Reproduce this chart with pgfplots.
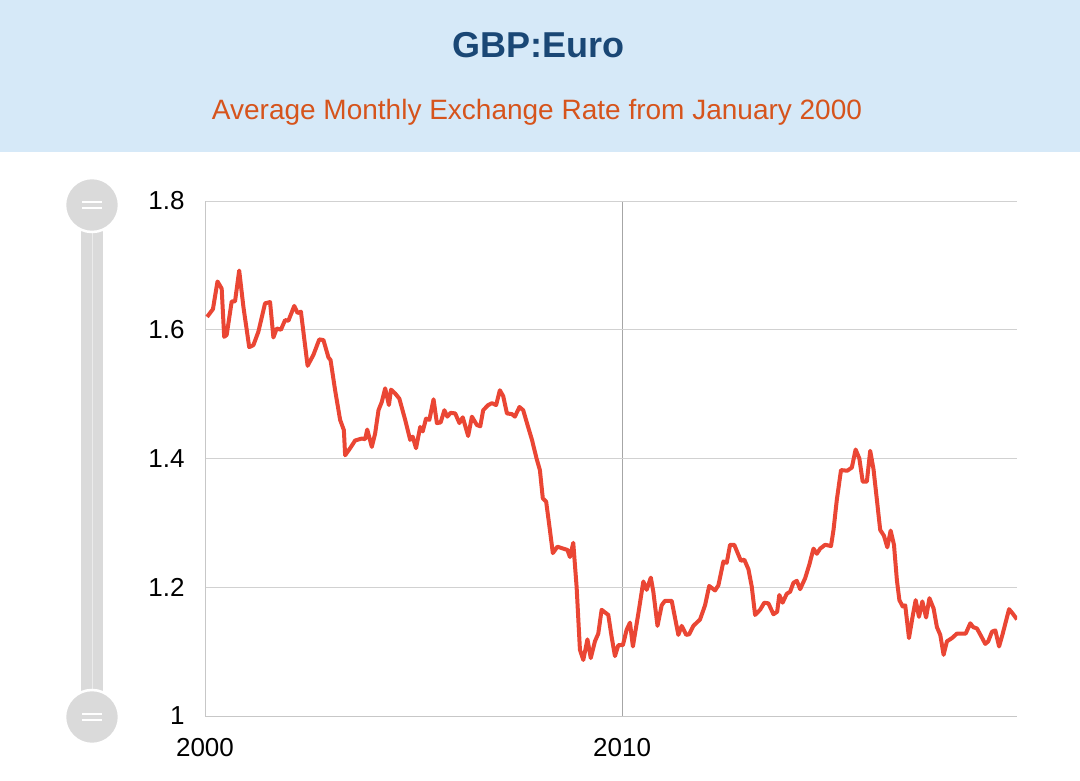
\documentclass[border=0pt]{standalone}
\usepackage{fontspec}
\setmainfont{Liberation Sans}
\usepackage{pgfplots}
\pgfplotsset{compat=1.18}
\definecolor{headbg}{RGB}{214,233,248}
\definecolor{titleblue}{RGB}{26,71,117}
\definecolor{suborange}{RGB}{214,84,28}
\definecolor{rateline}{RGB}{234,70,52}
\definecolor{slidergray}{RGB}{218,218,218}

\begin{document}
\begin{tikzpicture}
  % page frame and header band
  \path[use as bounding box, fill=white] (0,0) rectangle (1080pt,780pt);
  \fill[headbg] (0,628pt) rectangle (1080pt,780pt);
  \node[font=\fontsize{36}{42}\selectfont\bfseries, text=titleblue] at (538pt,735pt) {GBP:Euro};
  \node[font=\fontsize{28}{32}\selectfont, text=suborange] at (537pt,668pt) {Average Monthly Exchange Rate from January 2000};

  % range slider on the left
  \fill[slidergray] (81pt,62pt) rectangle (103pt,575pt);
  \draw[black!8, line width=0.8pt] (92pt,90pt) -- (92pt,548pt);
  \foreach \cy in {575,63} {
    \filldraw[fill=slidergray, draw=white, line width=2.5pt] (92pt,\cy pt) circle (27pt);
    \draw[white, line width=1.6pt] (82pt,\cy pt+3pt) -- (102pt,\cy pt+3pt);
    \draw[white, line width=1.6pt] (82pt,\cy pt-3pt) -- (102pt,\cy pt-3pt);
  }

  \begin{axis}[
      at={(205pt,64pt)}, anchor=south west,
      scale only axis,
      width=812pt, height=515pt,
      xmin=2000, xmax=2019.47,
      ymin=1, ymax=1.8,
      enlargelimits=false,
      axis x line=bottom, axis y line=left,
      axis line style={-, draw=black!22, line width=1pt},
      xtick={2000,2010},
      ytick={1,1.2,1.4,1.6,1.8},
      major tick length=0pt,
      grid=major,
      x grid style={black!35, line width=0.9pt},
      y grid style={black!18, line width=1pt},
      /pgf/number format/1000 sep={},
      /pgf/number format/assume math mode=true,
      tick label style={font=\fontsize{26}{30}\selectfont},
      yticklabel style={xshift=-17pt},
      xticklabel style={yshift=-19pt},
    ]
    \addplot[rateline, line width=4pt, line join=round] coordinates {
      (2000.05,1.620) (2000.19,1.632) (2000.30,1.675) (2000.40,1.664) (2000.46,1.589)
      (2000.52,1.592) (2000.64,1.644) (2000.72,1.644) (2000.82,1.692) (2000.92,1.636)
      (2001.06,1.573) (2001.16,1.576) (2001.28,1.597) (2001.44,1.641) (2001.56,1.643)
      (2001.64,1.588) (2001.72,1.602) (2001.82,1.600) (2001.92,1.615) (2002.00,1.614)
      (2002.14,1.637) (2002.22,1.626) (2002.30,1.628) (2002.46,1.544) (2002.60,1.561)
      (2002.74,1.585) (2002.84,1.584) (2002.96,1.557) (2003.01,1.553) (2003.12,1.506)
      (2003.24,1.460) (2003.33,1.444) (2003.36,1.405) (2003.48,1.416) (2003.60,1.428)
      (2003.76,1.431) (2003.84,1.430) (2003.89,1.445) (2004.00,1.418) (2004.08,1.439)
      (2004.16,1.475) (2004.24,1.488) (2004.32,1.509) (2004.41,1.483) (2004.46,1.507)
      (2004.56,1.501) (2004.66,1.493) (2004.80,1.460) (2004.92,1.429) (2004.98,1.434)
      (2005.06,1.416) (2005.16,1.449) (2005.22,1.442) (2005.30,1.462) (2005.38,1.460)
      (2005.48,1.492) (2005.56,1.455) (2005.65,1.456) (2005.74,1.475) (2005.81,1.465)
      (2005.89,1.471) (2006.00,1.470) (2006.10,1.455) (2006.18,1.464) (2006.31,1.435)
      (2006.40,1.465) (2006.52,1.452) (2006.60,1.450) (2006.67,1.475) (2006.79,1.483)
      (2006.88,1.486) (2006.98,1.483) (2007.07,1.506) (2007.15,1.497) (2007.24,1.470)
      (2007.36,1.469) (2007.43,1.465) (2007.54,1.480) (2007.63,1.475) (2007.72,1.455)
      (2007.84,1.429) (2007.95,1.400) (2008.03,1.382) (2008.10,1.338) (2008.18,1.333)
      (2008.27,1.289) (2008.34,1.253) (2008.45,1.263) (2008.59,1.260) (2008.69,1.258)
      (2008.75,1.247) (2008.83,1.269) (2008.91,1.201) (2008.99,1.103) (2009.07,1.087)
      (2009.17,1.119) (2009.25,1.090) (2009.35,1.116) (2009.43,1.128) (2009.51,1.165)
      (2009.67,1.157) (2009.75,1.123) (2009.83,1.093) (2009.91,1.110) (2010.02,1.110)
      (2010.11,1.134) (2010.19,1.145) (2010.26,1.108) (2010.39,1.159) (2010.51,1.209)
      (2010.59,1.196) (2010.69,1.215) (2010.75,1.193) (2010.85,1.140) (2010.95,1.172)
      (2011.03,1.179) (2011.19,1.179) (2011.35,1.126) (2011.43,1.140) (2011.54,1.126)
      (2011.61,1.127) (2011.71,1.140) (2011.87,1.150) (2011.99,1.172) (2012.09,1.202)
      (2012.23,1.195) (2012.31,1.203) (2012.43,1.240) (2012.51,1.238) (2012.59,1.266)
      (2012.69,1.266) (2012.85,1.241) (2012.93,1.243) (2013.03,1.228) (2013.11,1.201)
      (2013.19,1.157) (2013.31,1.165) (2013.41,1.176) (2013.51,1.175) (2013.63,1.158)
      (2013.72,1.162) (2013.77,1.188) (2013.85,1.176) (2013.95,1.190) (2014.03,1.193)
      (2014.11,1.207) (2014.19,1.210) (2014.27,1.197) (2014.39,1.214) (2014.49,1.235)
      (2014.59,1.260) (2014.67,1.252) (2014.75,1.260) (2014.87,1.266) (2015.01,1.264)
      (2015.07,1.289) (2015.15,1.336) (2015.25,1.382) (2015.40,1.381) (2015.51,1.386)
      (2015.60,1.414) (2015.69,1.400) (2015.77,1.364) (2015.87,1.364) (2015.95,1.412)
      (2016.03,1.383) (2016.11,1.336) (2016.19,1.289) (2016.28,1.280) (2016.36,1.262)
      (2016.44,1.288) (2016.52,1.266) (2016.59,1.211) (2016.65,1.180) (2016.73,1.170)
      (2016.79,1.172) (2016.88,1.121) (2016.96,1.152) (2017.04,1.180) (2017.12,1.154)
      (2017.20,1.178) (2017.29,1.153) (2017.37,1.183) (2017.47,1.167) (2017.55,1.138)
      (2017.63,1.126) (2017.71,1.095) (2017.79,1.116) (2017.91,1.121) (2018.03,1.128)
      (2018.24,1.128) (2018.35,1.144) (2018.42,1.138) (2018.51,1.136) (2018.61,1.124)
      (2018.71,1.112) (2018.78,1.116) (2018.87,1.131) (2018.95,1.133) (2019.04,1.108)
      (2019.12,1.126) (2019.28,1.166) (2019.38,1.158) (2019.47,1.150)
    };
  \end{axis}
\end{tikzpicture}
\end{document}
